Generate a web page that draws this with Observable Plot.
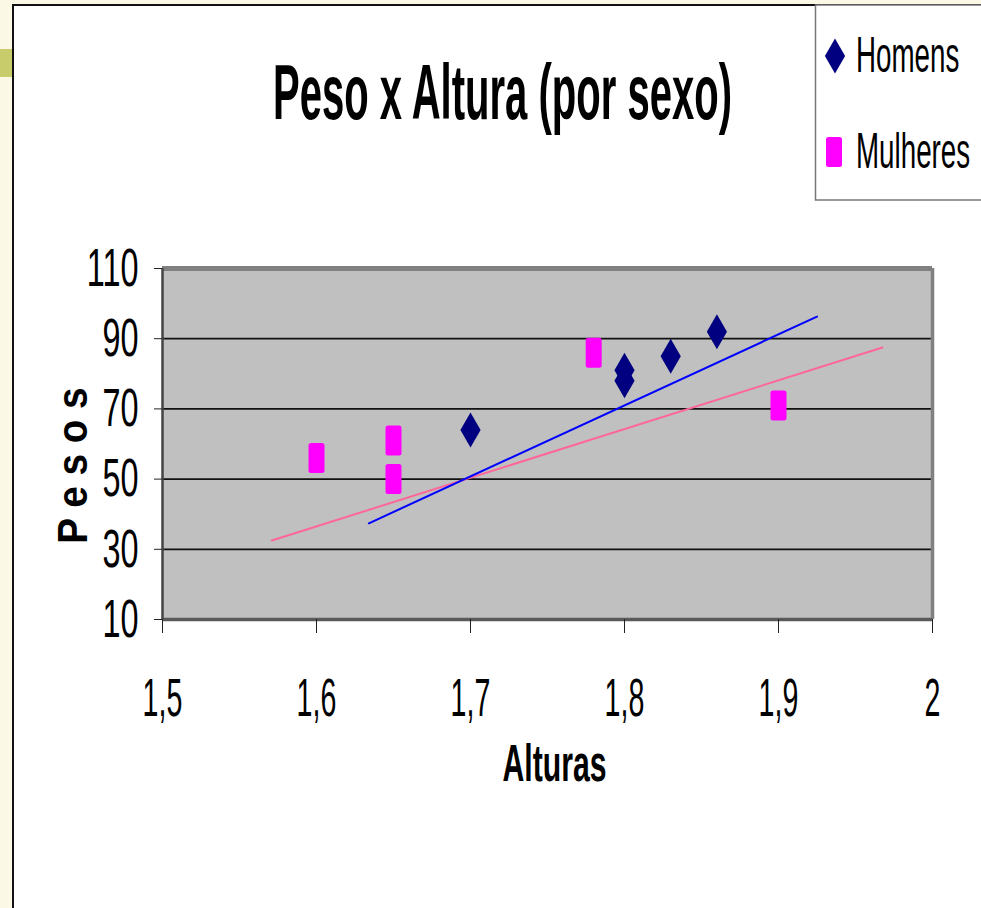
<!DOCTYPE html>
<html>
<head>
<meta charset="utf-8">
<script src="https://cdn.jsdelivr.net/npm/d3@7"></script>
<script src="https://cdn.jsdelivr.net/npm/@observablehq/plot@0.6"></script>
<style>
  html, body { margin: 0; padding: 0; background: #fff; }
  #wrap { position: relative; width: 981px; height: 908px; overflow: hidden; background: #fff; }
  #chart { position: absolute; left: 0; top: 0; }
  #overlay { position: absolute; left: 0; top: 0; pointer-events: none; }
</style>
</head>
<body>
<div id="wrap">
  <div id="chart"></div>
  <svg id="overlay" width="981" height="908" xmlns="http://www.w3.org/2000/svg"></svg>
</div>
<script>
// ---- data ----
const homensAltura = [1.70, 1.80, 1.80, 1.83, 1.86];
const homensPeso   = [64, 81, 78, 85, 92];
const mulheresAltura = [1.60, 1.65, 1.65, 1.78, 1.90];
const mulheresPeso   = [56, 61, 50, 86, 71];
const trendHomensX = [1.634, 1.925];
const trendHomensY = [37.4, 96.3];
const trendMulheresX = [1.571, 1.9675];
const trendMulheresY = [32.5, 87.5];
const xTicks = [1.5, 1.6, 1.7, 1.8, 1.9, 2];
const yTicks = [10, 30, 50, 70, 90, 110];
const gridLines = [30, 50, 70, 90];
const seriesNames = ["Homens", "Mulheres"];
const titleText = "Peso x Altura (por sexo)";
const xTitle = "Alturas";
const yTitle = "P e s o s";

// ---- tables built from the arrays ----
const homens = homensAltura.map((a, i) => ({altura: a, peso: homensPeso[i]}));
const mulheres = mulheresAltura.map((a, i) => ({altura: a, peso: mulheresPeso[i]}));
const trendH = trendHomensX.map((a, i) => ({altura: a, peso: trendHomensY[i]}));
const trendM = trendMulheresX.map((a, i) => ({altura: a, peso: trendMulheresY[i]}));

const NAVY = "#000080", MAGENTA = "#FF00FF";

// rounded rectangle symbol (Excel square marker, stretched)
const tallSquare = {
  draw(ctx) {
    const w = 8, h = 15, r = 2.5;
    ctx.moveTo(-w + r, -h);
    ctx.lineTo(w - r, -h);
    ctx.arcTo(w, -h, w, -h + r, r);
    ctx.lineTo(w, h - r);
    ctx.arcTo(w, h, w - r, h, r);
    ctx.lineTo(-w + r, h);
    ctx.arcTo(-w, h, -w, h - r, r);
    ctx.lineTo(-w, -h + r);
    ctx.arcTo(-w, -h, -w + r, -h, r);
    ctx.closePath();
  }
};

const fmt = d => String(d).replace(".", ",");

const svg = Plot.plot({
  width: 981,
  height: 908,
  marginLeft: 162,
  marginRight: 49,
  marginTop: 268,
  marginBottom: 289,
  x: {domain: [xTicks[0], xTicks[xTicks.length - 1]], label: null},
  y: {domain: [yTicks[0], yTicks[yTicks.length - 1]], label: null},
  style: {
    fontFamily: "'Liberation Sans', Arial, sans-serif",
    fontSize: "54px",
    color: "#000",
    background: "transparent",
    overflow: "visible"
  },
  marks: [
    Plot.frame({fill: "#C0C0C0", stroke: null}),
    Plot.ruleY(gridLines, {stroke: "#111", strokeWidth: 1.7}),
    Plot.ruleY([yTicks[yTicks.length - 1]], {stroke: "#808080", strokeWidth: 5}),
    Plot.ruleX([xTicks[xTicks.length - 1]], {stroke: "#808080", strokeWidth: 3.5}),
    Plot.ruleY([yTicks[0]], {stroke: "#5a5a5a", strokeWidth: 3.5}),
    Plot.ruleX([xTicks[0]], {stroke: "#444", strokeWidth: 2.5}),
    Plot.axisX({ticks: xTicks, tickSize: 14, tickPadding: 44, tickFormat: fmt, label: null, stroke: "#222"}),
    Plot.axisY({ticks: yTicks, tickSize: 8, tickPadding: 16, label: null, stroke: "#222"}),
    Plot.line(trendM, {x: "altura", y: "peso", stroke: "#FF6699", strokeWidth: 2}),
    Plot.line(trendH, {x: "altura", y: "peso", stroke: "#0000FF", strokeWidth: 2}),
    Plot.dot(homens, {x: "altura", y: "peso", symbol: "diamond", r: 10.6, fill: NAVY, stroke: null}),
    Plot.dot(mulheres, {x: "altura", y: "peso", symbol: tallSquare, r: 8, fill: MAGENTA, stroke: null}),
    Plot.text([titleText], {text: d => d, frameAnchor: "top", textAnchor: "middle", lineAnchor: "middle",
      dx: -45, dy: -174.6, fontSize: 77, fontWeight: "bold"}),
    Plot.text([xTitle], {text: d => d, frameAnchor: "bottom", textAnchor: "middle", lineAnchor: "middle",
      dx: 7, dy: 144.4, fontSize: 52, fontWeight: "bold"}),
    Plot.text([yTitle], {text: d => d, frameAnchor: "left", textAnchor: "middle", lineAnchor: "middle",
      rotate: -90, dx: -89.2, dy: 21.5, fontSize: 43, fontWeight: "bold"})
  ]
});

// horizontal compression of the condensed chart font
function squeezeGroup(label, s) {
  svg.querySelectorAll(`g[aria-label="${label}"] text`).forEach(t => {
    const tr = t.getAttribute("transform") || "";
    t.setAttribute("transform", tr + ` scale(${s},1)`);
  });
}
squeezeGroup("x-axis tick label", 0.53);
squeezeGroup("y-axis tick label", 0.6);
const textScale = new Map([[titleText, 0.52], [xTitle, 0.58], [yTitle, 0.9]]);
svg.querySelectorAll("text").forEach(t => {
  const s = textScale.get(t.textContent);
  if (s) t.setAttribute("transform", (t.getAttribute("transform") || "") + ` scale(${s},1)`);
});

document.getElementById("chart").appendChild(svg);

// ---- page decorations and legend ----
const ov = d3.select("#overlay");
ov.append("rect").attr("x", 0).attr("y", 0).attr("width", 981).attr("height", 4).attr("fill", "#FBF8E6");
ov.append("rect").attr("x", 0).attr("y", 0).attr("width", 12).attr("height", 908).attr("fill", "#FBF8E6");
ov.append("rect").attr("x", 0).attr("y", 49).attr("width", 12).attr("height", 28).attr("fill", "#C8CC6A");
ov.append("rect").attr("x", 12).attr("y", 4).attr("width", 2).attr("height", 904).attr("fill", "#111");
ov.append("rect").attr("x", 12).attr("y", 4).attr("width", 969).attr("height", 2).attr("fill", "#111");

const lg = ov.append("g");
lg.append("rect").attr("x", 815.5).attr("y", 5).attr("width", 200).attr("height", 195)
  .attr("fill", "#fff").attr("stroke", "#777").attr("stroke-width", 1.5);
lg.append("path").attr("d", d3.symbol(d3.symbolDiamond, Math.PI * 10.6 * 10.6)())
  .attr("transform", "translate(835,56)").attr("fill", NAVY);
lg.append("path").attr("d", (() => { const p = d3.path(); tallSquare.draw(p); return p.toString(); })())
  .attr("transform", "translate(834,152)").attr("fill", MAGENTA);
seriesNames.forEach((name, i) => {
  lg.append("text").text(name)
    .attr("transform", `translate(856,${i === 0 ? 72 : 168}) scale(0.555,1)`)
    .attr("font-family", "'Liberation Sans', Arial, sans-serif")
    .attr("font-size", 50).attr("fill", "#000");
});
</script>
</body>
</html>
